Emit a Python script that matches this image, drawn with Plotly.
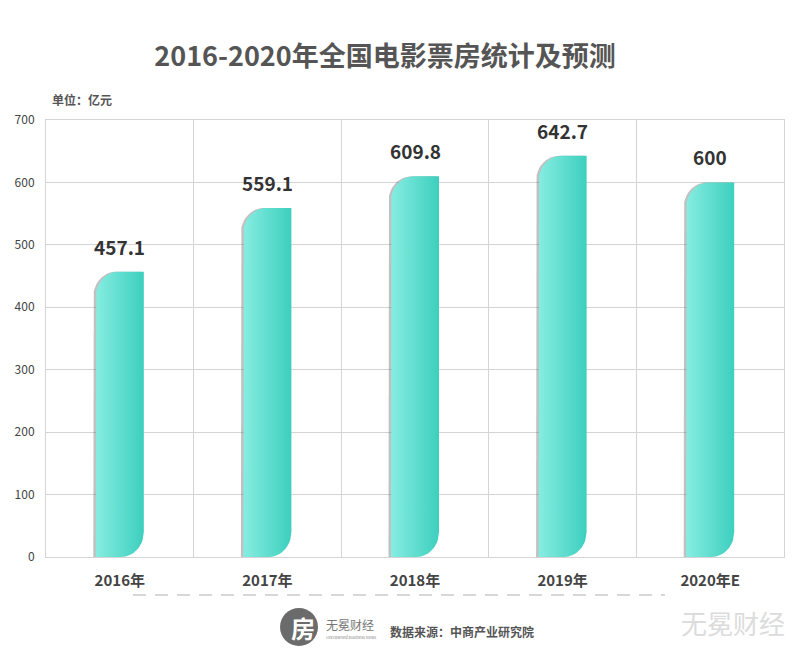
import numpy as np
import plotly.graph_objects as go

categories = ["2016年", "2017年", "2018年", "2019年", "2020年E"]
values = [457.1, 559.1, 609.8, 642.7, 600]
value_labels = ["457.1", "559.1", "609.8", "642.7", "600"]
y_ticks = [0, 100, 200, 300, 400, 500, 600, 700]

FONT = "Noto Sans CJK SC"
W, H = 798, 650
L, R, T, B = 46, 14, 120, 93
plot_w = W - L - R
plot_h = H - T - B
x_per_px = 5.0 / plot_w
y_per_px = 700.0 / plot_h

bar_w = 48 * x_per_px
rx = 23 * x_per_px
ry = 25 * y_per_px


def leaf_path(i, v, dx=0.0):
    x0 = i - bar_w / 2 + dx
    x1 = i + bar_w / 2 + dx
    t = np.linspace(0, np.pi / 2, 16)
    xs = [x0, x0]
    ys = [0, v - ry]
    # top-left arc
    xs += list(x0 + rx - rx * np.cos(t))
    ys += list(v - ry + ry * np.sin(t))
    xs += [x1, x1]
    ys += [v, ry]
    # bottom-right arc
    xs += list(x1 - rx + rx * np.cos(t))
    ys += list(ry - ry * np.sin(t))
    xs += [x0]
    ys += [0]
    return xs, ys


fig = go.Figure()
for i, v in enumerate(values):
    sx, sy = leaf_path(i, v, dx=-2.5 * x_per_px)
    fig.add_trace(go.Scatter(x=sx, y=sy, mode="lines", fill="toself",
                             fillcolor="rgba(100,100,100,0.4)",
                             line=dict(width=0), hoverinfo="skip", showlegend=False))
    bx, by = leaf_path(i, v)
    fig.add_trace(go.Scatter(x=bx, y=by, mode="lines", fill="toself",
                             fillgradient=dict(type="horizontal",
                                               colorscale=[[0, "#86ede1"], [1, "#3dcfbe"]]),
                             line=dict(width=0), hoverinfo="skip", showlegend=False))
    fig.add_annotation(x=i, y=v, text=value_labels[i], showarrow=False,
                       yanchor="bottom", yshift=10,
                       font=dict(family=FONT, size=19, color="#333333", weight="bold"))

grid = "#d4d4d4"
fig.update_layout(
    width=W, height=H,
    margin=dict(l=L, r=R, t=T, b=B),
    paper_bgcolor="white", plot_bgcolor="white",
    title=dict(text="2016-2020年全国电影票房统计及预测", x=385 / W, xanchor="center",
               y=1 - 57 / H, yanchor="middle",
               font=dict(family=FONT, size=27, color="#555555", weight="bold")),
    xaxis=dict(range=[-0.5, 4.5], tickvals=list(range(len(categories))), ticktext=categories,
               showgrid=False, zeroline=False, showline=True, mirror=True, linecolor=grid,
               ticks="", ticklabelstandoff=10,
               tickfont=dict(family=FONT, size=15, color="#444444", weight="bold"),
               minor=dict(tickvals=[k + 0.5 for k in range(-1, len(categories))],
                          showgrid=True, gridcolor=grid, ticks="")),
    yaxis=dict(range=[0, 700], tickvals=y_ticks, showgrid=True, gridcolor=grid,
               zeroline=False, showline=True, mirror=True, linecolor=grid, ticks="",
               ticklabelstandoff=8,
               tickfont=dict(family=FONT, size=12, color="#444444")),
)

# unit label
fig.add_annotation(xref="paper", yref="paper", x=(50 - L) / plot_w, y=(557 - 100) / plot_h,
                   xanchor="left", yanchor="middle", showarrow=False, text="单位：亿元",
                   font=dict(family=FONT, size=12, color="#555555", weight="bold"))

# dashed separator
fig.add_shape(type="line", xref="paper", yref="paper",
              x0=(133 - L) / plot_w, x1=(665 - L) / plot_w,
              y0=(557 - 595) / plot_h, y1=(557 - 595) / plot_h,
              line=dict(color="#b0b0b0", width=1.2, dash="13px,9px"))

# logo
cx, cy, r = 299, 627, 19
fig.add_shape(type="circle", xref="paper", yref="paper",
              x0=(cx - r - L) / plot_w, x1=(cx + r - L) / plot_w,
              y0=(557 - (cy + r)) / plot_h, y1=(557 - (cy - r)) / plot_h,
              fillcolor="#6b6b6b", line=dict(width=0))
fig.add_annotation(xref="paper", yref="paper", x=(cx + 4 - L) / plot_w, y=(557 - cy) / plot_h,
                   showarrow=False, text="房", xanchor="center", yanchor="middle",
                   font=dict(family=FONT, size=24, color="white", weight="bold"))
fig.add_annotation(xref="paper", yref="paper", x=(324 - L) / plot_w, y=(557 - 624) / plot_h,
                   showarrow=False, text="无冕财经", xanchor="left", yanchor="middle",
                   font=dict(family=FONT, size=12, color="#777777"))
fig.add_annotation(xref="paper", yref="paper", x=(324 - L) / plot_w, y=(557 - 637) / plot_h,
                   showarrow=False, text="Uncrowned Business News", xanchor="left", yanchor="middle",
                   font=dict(family=FONT, size=4, color="#888888"))
fig.add_annotation(xref="paper", yref="paper", x=(388 - L) / plot_w, y=(557 - 631) / plot_h,
                   showarrow=False, text="数据来源：中商产业研究院", xanchor="left", yanchor="middle",
                   font=dict(family=FONT, size=12, color="#555555", weight="bold"))
# watermark
fig.add_annotation(xref="paper", yref="paper", x=(733 - L) / plot_w, y=(557 - 622) / plot_h,
                   showarrow=False, text="无冕财经", xanchor="center", yanchor="middle",
                   font=dict(family=FONT, size=26, color="#dcdcdc"))

fig.write_html("out.html")
